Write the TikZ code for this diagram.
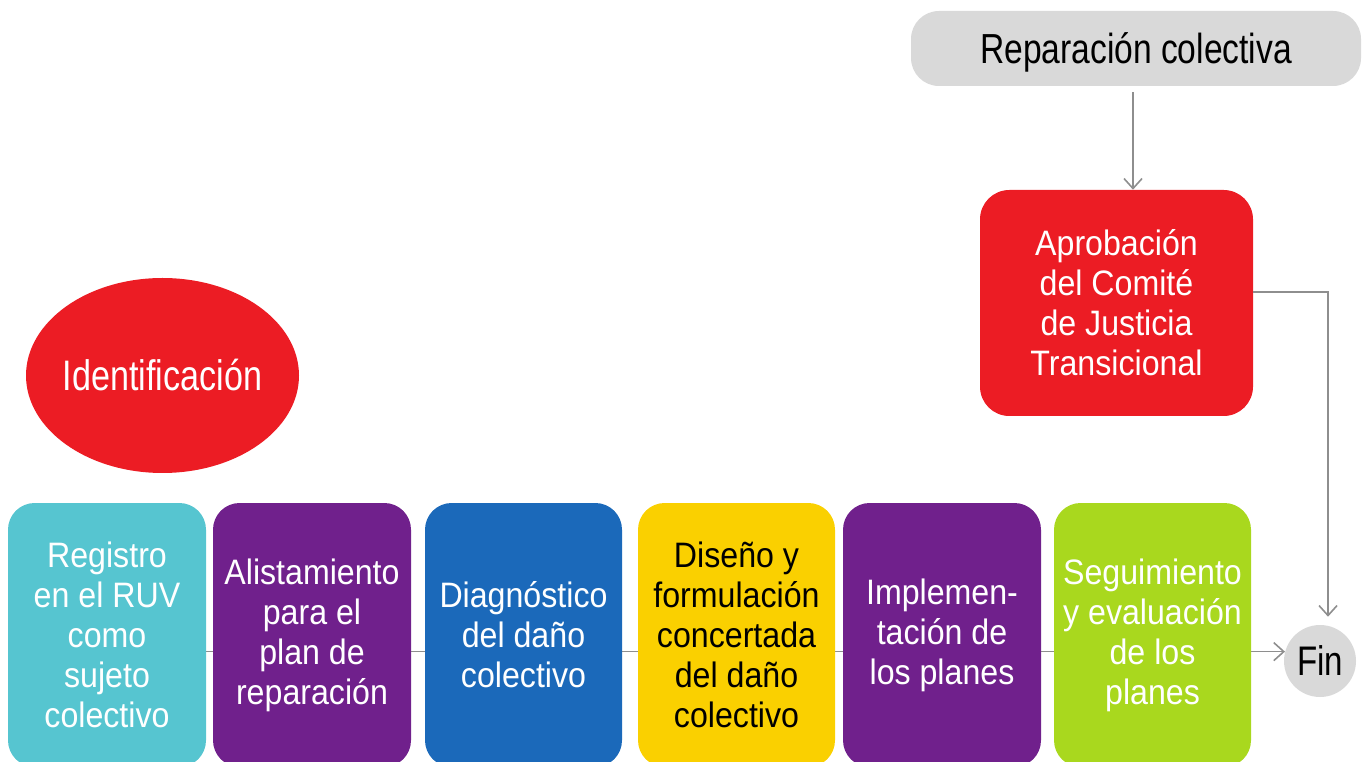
\documentclass[tikz,border=0pt]{standalone}
\usepackage{fontspec}
\setmainfont{Liberation Sans}[FakeStretch=0.91]
\newfontfamily\bigfont{Liberation Sans}[FakeStretch=0.8]
\usetikzlibrary{shapes.geometric,arrows.meta,backgrounds,calc}
\definecolor{cCyan}{HTML}{56C5D0}
\definecolor{cPurple}{HTML}{70208C}
\definecolor{cBlue}{HTML}{1B69BA}
\definecolor{cYellow}{HTML}{FAD000}
\definecolor{cLime}{HTML}{A9D81E}
\definecolor{cRed}{HTML}{EC1C24}
\definecolor{cGray}{HTML}{D9D9D9}
\definecolor{cLine}{HTML}{8E8E8E}
\tikzset{
  stepbox/.style={rectangle, rounded corners=20pt, draw=none, text=white,
    minimum width=198*0.75pt, minimum height=264*0.75pt, inner sep=0pt,
    align=center, font=\fontsize{26.5}{30}\selectfont},
  conn/.style={draw=cLine, line width=1.2pt,
    -{Straight Barb[length=7.5pt,width=13.5pt,line width=1.2pt]}},
}
\begin{document}
\begin{tikzpicture}[x=0.75pt,y=-0.75pt]
\useasboundingbox (0,0) rectangle (1363,762);
% top label
\node[rectangle, rounded corners=21pt, fill=cGray, minimum width=450*0.75pt,
  minimum height=75*0.75pt, inner sep=0pt, text depth=0pt,
  font=\bigfont\fontsize{31.5}{36}\selectfont]
  (rep) at (1136,48.5) {Reparación colectiva};
% approval
\node[stepbox, fill=cRed, minimum width=273*0.75pt, minimum height=226*0.75pt,
  rounded corners=22pt] (apr) at (1116.5,303)
  {Aprobación\\del Comité\\de Justicia\\Transicional};
% identification
\node[ellipse, fill=cRed, text=white, minimum width=273*0.75pt,
  minimum height=195*0.75pt, inner xsep=-20pt, inner ysep=0pt,
  font=\bigfont\fontsize{32}{36}\selectfont] (ide) at (162.5,375.5) {Identificación};
% steps
\node[stepbox, fill=cCyan]   (b1) at (107,635)   {Registro\\en el RUV\\como\\sujeto\\colectivo};
\node[stepbox, fill=cPurple] (b2) at (312,635)   {Alistamiento\\para el\\plan de\\reparación};
\node[stepbox, fill=cBlue, minimum width=197*0.75pt]   (b3) at (523.5,635) {Diagnóstico\\del daño\\colectivo};
\node[stepbox, fill=cYellow, text=black, minimum width=197*0.75pt] (b4) at (736.5,635) {Diseño y\\formulación\\concertada\\del daño\\colectivo};
\node[stepbox, fill=cPurple] (b5) at (942,635)   {Implemen-\\tación de\\los planes};
\node[stepbox, fill=cLime, minimum width=197*0.75pt]   (b6) at (1152.5,635) {Seguimiento\\y evaluación\\de los\\planes};
% end
\node[circle, fill=cGray, minimum size=72*0.75pt, inner sep=0pt,
  font=\bigfont\fontsize{31}{34}\selectfont] (fin) at (1320,661) {Fin};
% connectors
\begin{scope}[on background layer]
  \draw[conn] (b1.east |- fin.165) -- (fin.165);
\end{scope}
\coordinate (t1) at ($(rep.south)+(-3,6)$);
\draw[conn] (t1) -- (t1 |- apr.north);
\coordinate (t2) at ($(fin.north)+(8,-8)$);
\draw[conn] (apr.east |- 0,292) -| (t2);
\end{tikzpicture}
\end{document}
